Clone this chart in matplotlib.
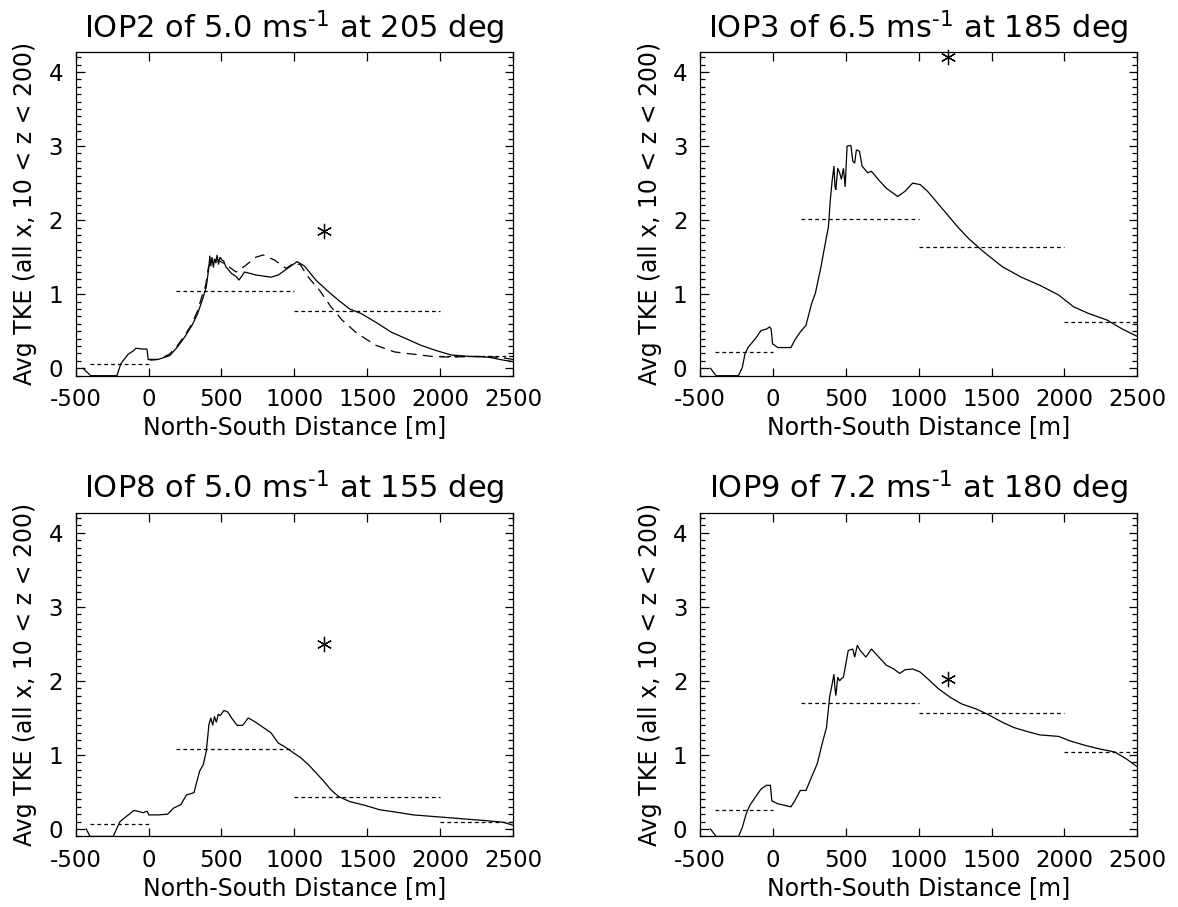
import numpy as np
import matplotlib
matplotlib.use("Agg")
import matplotlib.pyplot as plt

# ---------------- data ----------------
titles = ["IOP2", "IOP3", "IOP8", "IOP9"]
speeds = ["5.0", "6.5", "5.0", "7.2"]
directions = ["205", "185", "155", "180"]

seg_x = [(-400, 0), (190, 1000), (1000, 2000), (2000, 2500)]

iop2_x = [-450, -397, -217, -191, -140, -101, -88, -40, -11, -3, 20, 66, 144, 195, 247, 298, 337, 375, 396,
          414, 420, 427, 435, 445, 452, 462, 470, 480, 490, 504, 515, 530, 569, 600, 620, 658, 736, 839, 890,
          968, 1019, 1070, 1148, 1225, 1302, 1380, 1457, 1560, 1663, 1766, 1869, 1972, 2075, 2204, 2332,
          2435, 2500]
iop2_tke = [0.0, -0.1, -0.1, 0.06, 0.19, 0.24, 0.27, 0.26, 0.26, 0.12, 0.11, 0.12, 0.17, 0.28, 0.42, 0.58,
            0.74, 0.96, 1.1, 1.37, 1.52, 1.38, 1.50, 1.36, 1.48, 1.42, 1.53, 1.40, 1.50, 1.46, 1.45, 1.37,
            1.28, 1.24, 1.19, 1.30, 1.26, 1.23, 1.26, 1.37, 1.44, 1.38, 1.19, 1.05, 0.92, 0.80, 0.74, 0.62,
            0.49, 0.40, 0.31, 0.24, 0.18, 0.16, 0.15, 0.11, 0.09]
iop2_dash_x = [0, 66, 144, 195, 247, 298, 337, 370, 392, 410, 430, 470, 530, 600, 660, 736, 787, 865, 942,
               1000, 1040, 1096, 1174, 1251, 1328, 1431, 1560, 1689, 1817, 1946, 2075, 2200, 2332, 2435,
               2500]
iop2_dash_tke = [0.12, 0.12, 0.19, 0.30, 0.44, 0.60, 0.78, 1.00, 1.12, 1.36, 1.45, 1.47, 1.40, 1.30, 1.38,
                 1.50, 1.53, 1.46, 1.35, 1.42, 1.40, 1.23, 1.05, 0.83, 0.65, 0.47, 0.31, 0.22, 0.19, 0.16,
                 0.15, 0.16, 0.16, 0.14, 0.12]
iop2_seg = [0.06, 1.04, 0.77, 0.16]
iop2_star = (1200, 1.85)

iop3_x = [-428, -390, -236, -210, -192, -171, -120, -81, -43, -22, -12, -2, 34, 124, 150, 188, 227, 265,
          291, 330, 355, 381, 394, 407, 419, 426, 432, 445, 458, 470, 484, 496, 509, 535, 548, 561, 573,
          594, 612, 650, 676, 727, 779, 856, 907, 959, 1010, 1061, 1113, 1190, 1267, 1344, 1447, 1575,
          1704, 1832, 1960, 2063, 2166, 2294, 2397, 2500]
iop3_tke = [0.0, -0.1, -0.1, 0.01, 0.19, 0.28, 0.40, 0.51, 0.53, 0.56, 0.53, 0.33, 0.28, 0.28, 0.38, 0.49,
            0.58, 0.87, 1.01, 1.37, 1.64, 1.91, 2.27, 2.54, 2.73, 2.45, 2.41, 2.70, 2.64, 2.55, 2.70, 2.45,
            3.00, 3.01, 2.80, 2.77, 2.95, 2.93, 2.73, 2.64, 2.66, 2.54, 2.43, 2.32, 2.39, 2.50, 2.48, 2.39,
            2.27, 2.09, 1.91, 1.75, 1.57, 1.37, 1.23, 1.12, 0.99, 0.83, 0.74, 0.65, 0.53, 0.43]
iop3_seg = [0.22, 2.02, 1.64, 0.62]
iop3_star = (1200, 4.2)

iop8_x = [-428, -402, -243, -196, -152, -101, -75, -37, -11, 2, 66, 131, 170, 221, 260, 311, 350, 375, 396,
          414, 427, 440, 452, 465, 478, 491, 517, 543, 569, 607, 646, 684, 736, 787, 839, 890, 942, 993,
          1045, 1096, 1148, 1199, 1251, 1302, 1380, 1483, 1585, 1689, 1817, 1946, 2075, 2204, 2332, 2435,
          2500]
iop8_tke = [0.0, -0.1, -0.1, 0.10, 0.17, 0.25, 0.24, 0.22, 0.24, 0.19, 0.19, 0.20, 0.28, 0.33, 0.46, 0.49,
            0.78, 0.87, 1.05, 1.41, 1.50, 1.40, 1.52, 1.44, 1.55, 1.53, 1.60, 1.58, 1.50, 1.40, 1.40, 1.50,
            1.44, 1.37, 1.30, 1.16, 1.10, 1.03, 0.96, 0.87, 0.76, 0.65, 0.53, 0.44, 0.37, 0.32, 0.26, 0.23,
            0.19, 0.17, 0.15, 0.13, 0.11, 0.09, 0.05]
iop8_seg = [0.07, 1.08, 0.43, 0.10]
iop8_star = (1200, 2.5)

iop9_x = [-428, -390, -236, -210, -184, -158, -120, -81, -43, -17, -7, 34, 124, 150, 188, 227, 265, 304,
          343, 368, 389, 407, 419, 426, 432, 445, 458, 470, 484, 496, 517, 548, 561, 579, 599, 638, 676,
          727, 779, 830, 869, 907, 959, 1010, 1061, 1138, 1215, 1293, 1395, 1472, 1575, 1652, 1755, 1832,
          1960, 2037, 2140, 2243, 2345, 2422, 2500]
iop9_tke = [0.0, -0.1, -0.1, 0.02, 0.20, 0.32, 0.43, 0.54, 0.59, 0.59, 0.38, 0.34, 0.30, 0.38, 0.52, 0.52,
            0.70, 0.88, 1.19, 1.37, 1.78, 1.96, 2.09, 1.90, 1.80, 2.05, 2.00, 2.03, 2.05, 2.18, 2.41, 2.43,
            2.32, 2.48, 2.41, 2.32, 2.43, 2.32, 2.21, 2.16, 2.10, 2.15, 2.16, 2.12, 2.03, 1.89, 1.78, 1.69,
            1.62, 1.55, 1.44, 1.37, 1.31, 1.27, 1.25, 1.19, 1.13, 1.08, 1.04, 0.95, 0.84]
iop9_seg = [0.25, 1.70, 1.57, 1.04]
iop9_star = (1200, 2.02)

panels = [
    (iop2_x, iop2_tke, iop2_seg, iop2_star, (iop2_dash_x, iop2_dash_tke)),
    (iop3_x, iop3_tke, iop3_seg, iop3_star, None),
    (iop8_x, iop8_tke, iop8_seg, iop8_star, None),
    (iop9_x, iop9_tke, iop9_seg, iop9_star, None),
]

# ---------------- figure ----------------
plt.rcParams['font.family'] = ['DejaVu Sans']
plt.rcParams['axes.unicode_minus'] = False
W, H = 1178, 907
fig = plt.figure(figsize=(W / 100, H / 100), dpi=100)

ax_left = [75.7, 700.0]
ax_top = [52.0, 512.7]
ax_w = 437.3
ax_h = 323.7

for i, (x, y, seg, star, dash) in enumerate(panels):
    col = i % 2
    row = i // 2
    l = ax_left[col] / W
    b = 1 - (ax_top[row] + ax_h) / H
    ax = fig.add_axes([l, b, ax_w / W, ax_h / H])
    ax.plot(x, y, color='black', lw=0.9, solid_joinstyle='miter')
    if dash is not None:
        ax.plot(dash[0], dash[1], color='black', lw=0.9, dashes=(8, 5))
    for (x0, x1), yv in zip(seg_x, seg):
        ax.plot([x0, x1], [yv, yv], color='black', lw=0.9, dashes=(3, 2.5))
    ax.plot([star[0]], [star[1]], marker=(6, 2, 0), markersize=11, color='black',
            markeredgewidth=0.9, linestyle='none', clip_on=False)
    ax.set_xlim(-500, 2500)
    ax.set_ylim(-0.1, 4.27)
    ax.set_xticks([-500, 0, 500, 1000, 1500, 2000, 2500])
    ax.set_xticklabels(["-500", "0", "500", "1000", "1500", "2000", "2500"])
    ax.set_yticks([0, 1, 2, 3, 4])
    ax.set_yticks(np.arange(-0.1, 4.25, 0.1), minor=True)
    ax.tick_params(axis='both', which='major', direction='in', top=True, right=True,
                   length=8.5 * 0.72, width=0.9, labelsize=16.5, pad=9)
    ax.tick_params(axis='y', which='minor', direction='in', right=True, left=True,
                   length=5 * 0.72, width=0.9)
    for sp in ax.spines.values():
        sp.set_linewidth(0.9)
    ax.set_xlabel("North-South Distance [m]", fontsize=17, labelpad=3)
    ax.set_ylabel("Avg TKE (all x, 10 < z < 200)", fontsize=17, labelpad=8)
    ax.set_title(titles[i] + " of " + speeds[i] + " ms$^{\u2010\\mathregular{1}}$ at " + directions[i] + " deg",
                 fontsize=22, pad=10)

fig.savefig("out.png", dpi=100)
